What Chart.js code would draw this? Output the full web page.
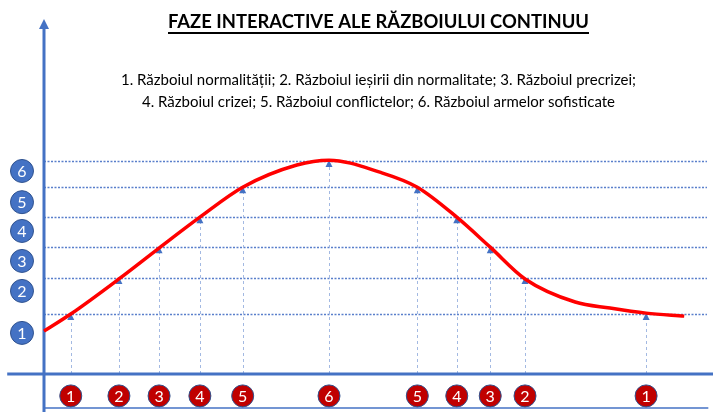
<!DOCTYPE html>
<html>
<head>
<meta charset="utf-8">
<script src="https://cdn.jsdelivr.net/npm/chart.js@4.4.1/dist/chart.umd.min.js"></script>
<style>
html, body { margin: 0; padding: 0; background: #fff; }
#wrap { width: 713px; height: 412px; }
</style>
</head>
<body>
<div id="wrap"><canvas id="myChart"></canvas></div>
<script>
const titleText = 'FAZE INTERACTIVE ALE RĂZBOIULUI CONTINUU';
const subtitleLines = [
  '1. Războiul normalității; 2. Războiul ieșirii din normalitate; 3. Războiul precrizei;',
  '4. Războiul crizei; 5. Războiul conflictelor; 6. Războiul armelor sofisticate'
];

// levels 1..6 on the vertical axis
const levelLabels = ['1', '2', '3', '4', '5', '6'];
const levelValues = [2.0, 3.2, 4.23, 5.23, 6.23, 7.1];
const levelBadgeY = [1.37, 2.77, 3.77, 4.77, 5.73, 6.77];

// phases along the horizontal axis
const phaseLabels = ['1', '2', '3', '4', '5', '6', '5', '4', '3', '2', '1'];
const phaseX = [4.0, 11.2, 17.2, 23.3, 29.7, 42.6, 55.8, 61.7, 66.7, 71.9, 90.0];

// the red curve
const curveX = [0, 4.0, 11.2, 17.2, 23.3, 29.7, 37.8, 42.6, 50.2, 55.8, 61.7, 66.7, 71.9, 79.4, 84.6, 90.0, 95.7];
const curveY = [1.43, 2.0, 3.17, 4.2, 5.23, 6.23, 6.97, 7.13, 6.73, 6.23, 5.23, 4.23, 3.17, 2.4, 2.2, 2.03, 1.93];

const fontFamily = 'Lato, "Liberation Sans", sans-serif';

function badge(ctx, cx, cy, r, fill, text) {
  ctx.beginPath();
  ctx.arc(cx, cy, r, 0, Math.PI * 2);
  ctx.fillStyle = fill;
  ctx.fill();
  ctx.lineWidth = 1;
  ctx.strokeStyle = '#2F528F';
  ctx.stroke();
  ctx.fillStyle = '#fff';
  ctx.fillText(text, cx, cy + 1);
}

const diagram = {
  id: 'diagram',
  beforeDatasetsDraw(chart) {
    const { ctx, scales: { x, y } } = chart;
    ctx.save();

    // dotted level lines
    ctx.strokeStyle = '#5A7FCB';
    ctx.lineWidth = 1.3;
    ctx.setLineDash([2, 1.5]);
    levelValues.forEach(v => {
      const py = Math.round(y.getPixelForValue(v)) + 0.5;
      ctx.beginPath();
      ctx.moveTo(x.getPixelForValue(0), py);
      ctx.lineTo(x.getPixelForValue(99.1), py);
      ctx.stroke();
    });

    // dotted drop lines for every phase
    ctx.strokeStyle = '#A3B9E2';
    ctx.lineWidth = 1;
    ctx.setLineDash([3, 3]);
    phaseX.forEach((v, i) => {
      const px = Math.round(x.getPixelForValue(v)) + 0.5;
      ctx.beginPath();
      ctx.moveTo(px, y.getPixelForValue(0));
      ctx.lineTo(px, y.getPixelForValue(levelValues[+phaseLabels[i] - 1]));
      ctx.stroke();
    });
    ctx.setLineDash([]);

    // axes
    const ox = x.getPixelForValue(0), oy = y.getPixelForValue(0);
    ctx.strokeStyle = '#4472C4';
    ctx.fillStyle = '#4472C4';
    ctx.lineWidth = 3;
    ctx.beginPath();
    ctx.moveTo(x.getPixelForValue(-5.5), oy);
    ctx.lineTo(x.getPixelForValue(100), oy);
    ctx.stroke();
    ctx.beginPath();
    ctx.moveTo(ox, 27);
    ctx.lineTo(ox, chart.height);
    ctx.stroke();
    ctx.beginPath();
    ctx.moveTo(ox, 19);
    ctx.lineTo(ox - 5, 29);
    ctx.lineTo(ox + 5, 29);
    ctx.closePath();
    ctx.fill();

    // thin base line
    ctx.lineWidth = 1.5;
    const by = y.getPixelForValue(-1.13);
    ctx.beginPath();
    ctx.moveTo(ox, by);
    ctx.lineTo(x.getPixelForValue(99.3), by);
    ctx.stroke();

    // small triangles on the levels
    phaseX.forEach((v, i) => {
      const px = x.getPixelForValue(v);
      const py = y.getPixelForValue(levelValues[+phaseLabels[i] - 1]);
      ctx.beginPath();
      ctx.moveTo(px, py - 1);
      ctx.lineTo(px - 3.5, py + 6);
      ctx.lineTo(px + 3.5, py + 6);
      ctx.closePath();
      ctx.fill();
    });
    ctx.restore();
  },
  afterDatasetsDraw(chart) {
    // numbered badges for the levels (left) and phases (bottom)
    const { ctx, scales: { x, y } } = chart;
    ctx.save();
    ctx.font = '16px ' + fontFamily;
    ctx.textAlign = 'center';
    ctx.textBaseline = 'middle';
    levelBadgeY.forEach((v, i) => {
      badge(ctx, x.getPixelForValue(-3.29), y.getPixelForValue(v), 11.5, '#4472C4', levelLabels[i]);
    });
    phaseX.forEach((v, i) => {
      badge(ctx, x.getPixelForValue(v), y.getPixelForValue(-0.73), 11, '#C00000', phaseLabels[i]);
    });
    ctx.restore();
  },
  afterDraw(chart) {
    // underline the title
    const { ctx } = chart;
    const tb = chart.titleBlock;
    const font = Chart.helpers.toFont(chart.options.plugins.title.font);
    ctx.save();
    ctx.font = font.string;
    const w = ctx.measureText(titleText).width;
    const cx = (tb.left + tb.right) / 2;
    const uy = tb.top + 10 + font.lineHeight / 2 + 10;
    ctx.fillStyle = '#000';
    ctx.fillRect(cx - w / 2, uy, w, 2);
    ctx.restore();
  }
};

const config = {
  type: 'scatter',
  data: {
    datasets: [{
      label: 'curve',
      data: curveX.map((v, i) => ({ x: v, y: curveY[i] })),
      showLine: true,
      borderColor: '#FF0000',
      borderWidth: 3.5,
      pointRadius: 0,
      cubicInterpolationMode: 'monotone',
      clip: false
    }]
  },
  options: {
    responsive: true,
    maintainAspectRatio: false,
    animation: false,
    events: [],
    layout: {
      autoPadding: false,
      padding: { top: 0, left: 44, right: 0, bottom: 38 }
    },
    scales: {
      x: { type: 'linear', min: 0, max: 100, display: false },
      y: { type: 'linear', min: 0, max: 8.37, display: false }
    },
    plugins: {
      legend: { display: false },
      tooltip: { enabled: false },
      title: {
        display: true,
        text: titleText,
        color: '#000',
        font: { family: fontFamily, size: 18.4, weight: 'bold', lineHeight: '24px' },
        padding: { top: 10, bottom: 20 }
      },
      subtitle: {
        display: true,
        text: subtitleLines,
        color: '#000',
        font: { family: fontFamily, size: 15, lineHeight: '22px' },
        padding: { top: 15, bottom: 10 }
      }
    }
  },
  plugins: [diagram]
};

var myChart = new Chart(document.getElementById('myChart'), config);
</script>
</body>
</html>
